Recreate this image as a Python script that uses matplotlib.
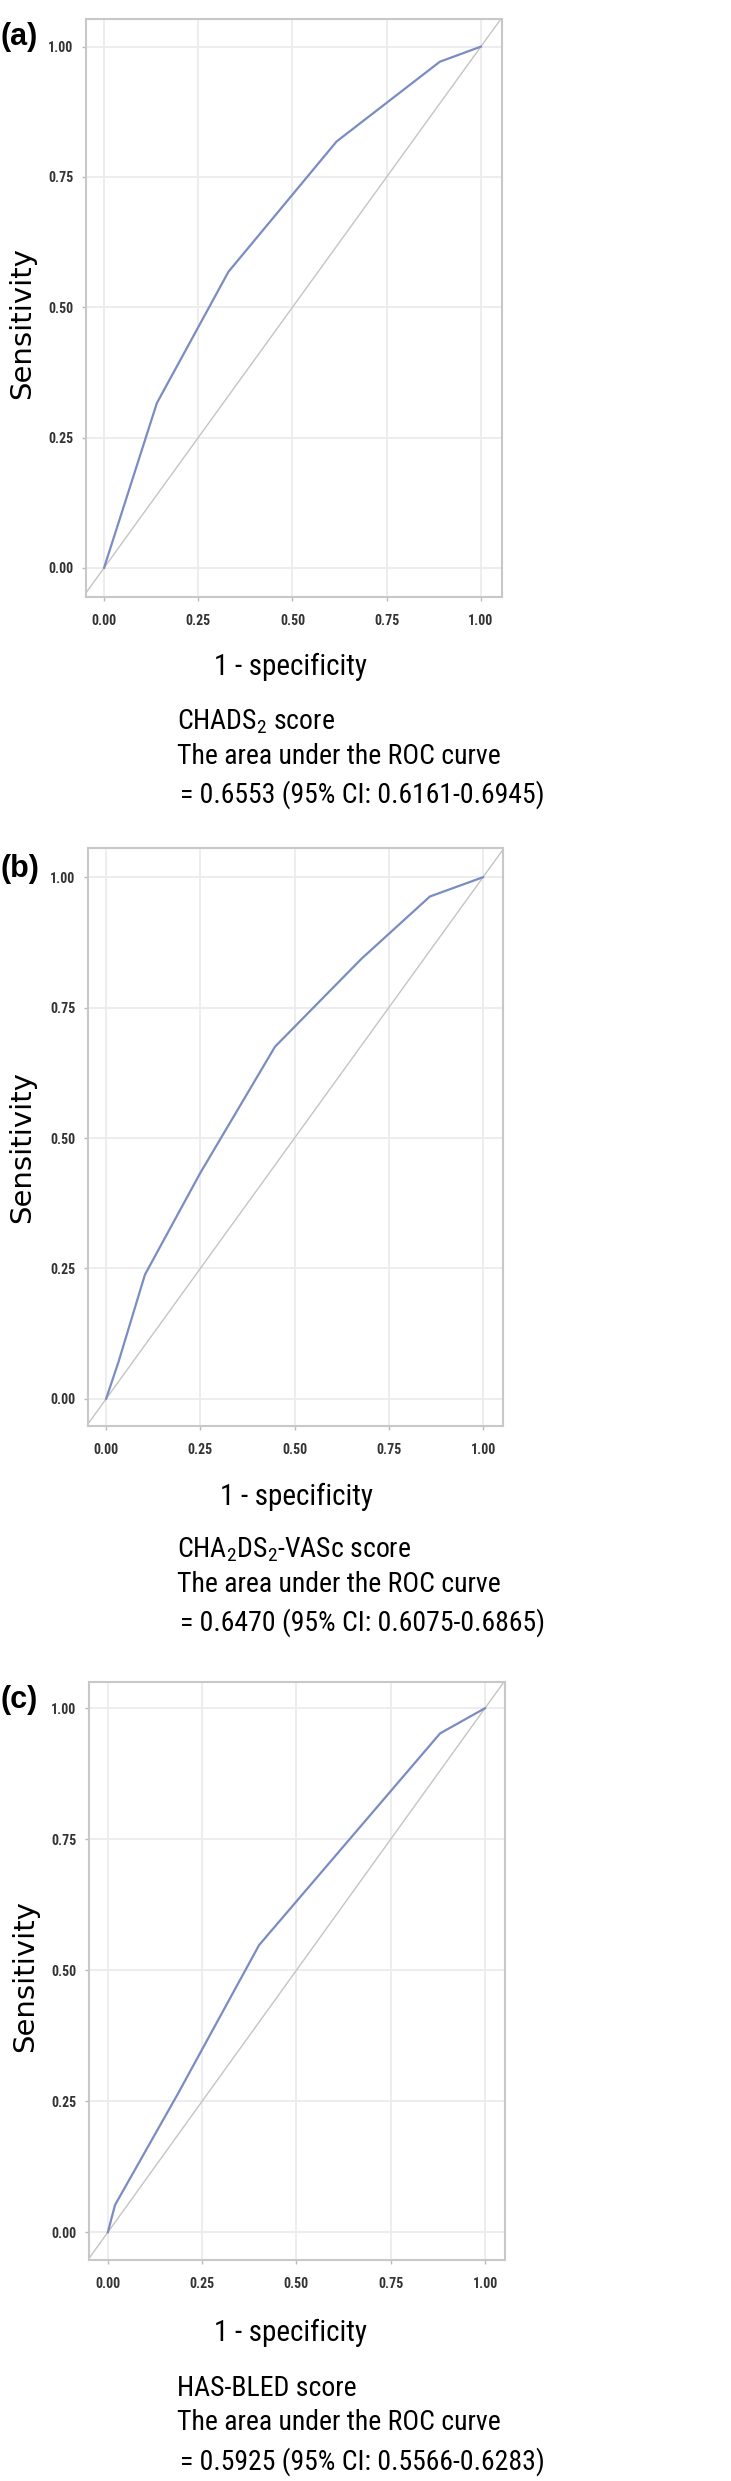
import matplotlib.pyplot as plt
from matplotlib import font_manager
import numpy as np

# ROC points (1 - specificity, sensitivity)
fpr_chads = [0.0, 0.140, 0.330, 0.617, 0.891, 1.0]
tpr_chads = [0.0, 0.316, 0.568, 0.818, 0.971, 1.0]

fpr_vasc = [0.0, 0.033, 0.103, 0.249, 0.448, 0.678, 0.859, 1.0]
tpr_vasc = [0.0, 0.071, 0.238, 0.432, 0.675, 0.844, 0.963, 1.0]

fpr_hasbled = [0.0, 0.019, 0.184, 0.401, 0.881, 1.0]
tpr_hasbled = [0.0, 0.052, 0.262, 0.548, 0.952, 1.0]

tick_values = [0.0, 0.25, 0.5, 0.75, 1.0]
tick_labels = ['0.00', '0.25', '0.50', '0.75', '1.00']

panel_tags = ['(a)', '(b)', '(c)']
score_names = ['CHADS$_\\mathregular{2}$ score',
               'CHA$_\\mathregular{2}$DS$_\\mathregular{2}$-VASc score',
               'HAS-BLED score']
auc_lines = ['= 0.6553 (95% CI: 0.6161-0.6945)',
             '= 0.6470 (95% CI: 0.6075-0.6865)',
             '= 0.5925 (95% CI: 0.5566-0.6283)']

W, H = 731, 2481


def first_font(names):
    for n in names:
        try:
            font_manager.findfont(font_manager.FontProperties(family=n), fallback_to_default=False)
            return n
        except ValueError:
            pass
    return None


narrow = first_font(['Liberation Sans Narrow', 'Arial Narrow', 'Roboto Condensed',
                     'Open Sans Condensed'])
REGULAR = ['Liberation Sans', 'DejaVu Sans']
if narrow:
    FONT = [narrow] + REGULAR
    tick_size, lab_size, ann_size = 10, 21, 20
else:
    FONT = REGULAR
    tick_size, lab_size, ann_size = 8, 17.5, 14.6


def fx(x):
    return x / W


def fy(y):
    return 1 - y / H


def plot_roc(fig, box, lims, fpr, tpr, pos):
    left, top, right, bottom = box
    ax = fig.add_axes([fx(left), fy(bottom), (right - left) / W, (bottom - top) / H])
    ax.set_xlim(lims[0], lims[1])
    ax.set_ylim(lims[2], lims[3])

    # chance line, corner to corner
    ax.plot([-0.1, 1.1], [-0.1, 1.1], color='#c4c4c4', lw=1.0, zorder=2)
    ax.plot(fpr, tpr, color='#7a8cc2', lw=1.6, zorder=3)

    ax.set_xticks(tick_values)
    ax.set_yticks(tick_values)
    ax.set_xticklabels(tick_labels, family=FONT, fontsize=tick_size, fontweight='bold', color='#333333')
    ax.set_yticklabels(tick_labels, family=FONT, fontsize=tick_size, fontweight='bold', color='#333333')
    ax.tick_params(axis='x', length=3, width=1, color='#bbbbbb', pad=9)
    ax.tick_params(axis='y', length=3, width=1, color='#bbbbbb', pad=6)
    ax.grid(True, color='#ececec', lw=1.3)
    ax.set_axisbelow(True)
    for s in ax.spines.values():
        s.set_color('#c8c8c8')
        s.set_linewidth(1.5)

    fig.text(fx(pos['xlab'][0]), fy(pos['xlab'][1]), '1 - specificity', family=FONT,
             fontsize=lab_size, ha='center', va='center')
    fig.text(fx(pos['ylab'][0]), fy(pos['ylab'][1]), 'Sensitivity', family='DejaVu Sans',
             fontsize=21, rotation=90, ha='center', va='center')
    fig.text(0.0, fy(pos['tag']), pos['tagtext'], family=REGULAR, fontsize=22,
             fontweight='bold', ha='left', va='center')

    for (x, y), t in zip(pos['ann'], pos['anntext']):
        fig.text(fx(x), fy(y), t, family=FONT, fontsize=ann_size, ha='left', va='center')
    return ax


fig = plt.figure(figsize=(W / 100, H / 100), dpi=100)

plot_roc(fig, (86, 19, 502, 597), (-0.048, 1.056, -0.056, 1.053), fpr_chads, tpr_chads,
         dict(xlab=(290, 667), ylab=(22, 323), tag=37, tagtext=panel_tags[0],
              ann=[(177, 722), (177, 757), (180, 795)],
              anntext=[score_names[0], 'The area under the ROC curve', auc_lines[0]]))

plot_roc(fig, (88, 848, 503, 1426), (-0.048, 1.053, -0.052, 1.056), fpr_vasc, tpr_vasc,
         dict(xlab=(297, 1497), ylab=(22, 1147), tag=869, tagtext=panel_tags[1],
              ann=[(177, 1550), (177, 1585), (180, 1623)],
              anntext=[score_names[1], 'The area under the ROC curve', auc_lines[1]]))

plot_roc(fig, (89, 1682, 505, 2260), (-0.050, 1.053, -0.053, 1.050), fpr_hasbled, tpr_hasbled,
         dict(xlab=(290, 2333), ylab=(25, 1976), tag=1700, tagtext=panel_tags[2],
              ann=[(177, 2388), (177, 2423), (180, 2462)],
              anntext=[score_names[2], 'The area under the ROC curve', auc_lines[2]]))

fig.savefig('out.png', dpi=100)
